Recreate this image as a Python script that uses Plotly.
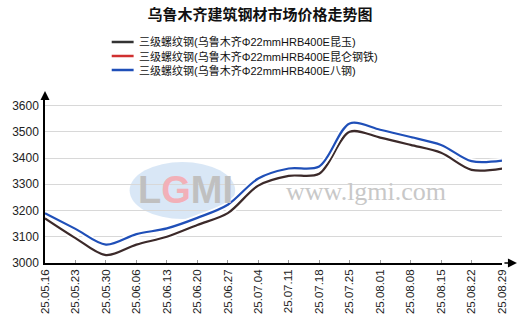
import plotly.graph_objects as go

dates = ["25.05.16", "25.05.23", "25.05.30", "25.06.06", "25.06.13", "25.06.20",
         "25.06.27", "25.07.04", "25.07.11", "25.07.18", "25.07.25", "25.08.01",
         "25.08.08", "25.08.15", "25.08.22", "25.08.29"]
kunyu = [3170, 3095, 3030, 3070, 3100, 3145, 3190, 3295, 3332, 3340, 3500, 3478,
         3450, 3420, 3355, 3360]
kunlun = [3170, 3095, 3030, 3070, 3100, 3145, 3190, 3295, 3332, 3340, 3500, 3478,
          3450, 3420, 3355, 3360]
bagang = [3190, 3130, 3070, 3110, 3132, 3172, 3222, 3322, 3360, 3368, 3532, 3508,
          3480, 3450, 3388, 3390]
names = ["三级螺纹钢(乌鲁木齐Φ22mmHRB400E昆玉)",
         "三级螺纹钢(乌鲁木齐Φ22mmHRB400E昆仑钢铁)",
         "三级螺纹钢(乌鲁木齐Φ22mmHRB400E八钢)"]
colors = ["#3c2a2a", "#d03030", "#1f4fb8"]
yticks = [3000, 3100, 3200, 3300, 3400, 3500, 3600]

fig = go.Figure()
xs = list(range(len(dates)))
for vals, col in [(kunlun, colors[1]), (kunyu, colors[0]), (bagang, colors[2])]:
    fig.add_trace(go.Scatter(x=xs, y=vals, mode="lines",
                             line=dict(color="white", width=6, shape="spline", smoothing=0.9),
                             hoverinfo="skip", showlegend=False))
    fig.add_trace(go.Scatter(x=xs, y=vals, mode="lines",
                             line=dict(color=col, width=2.2, shape="spline", smoothing=0.9),
                             showlegend=False))

L, R, T, B = 43, 18, 99, 71
W, H = 520, 334
pw = W - L - R
ph = H - T - B

def px_x(px):
    return (px - L) / pw

def px_y(py):
    return (H - B - py) / ph

shapes = []
annotations = []

shapes.append(dict(type="circle", xref="paper", yref="paper", layer="below",
                   x0=px_x(128), x1=px_x(234), y0=px_y(219), y1=px_y(162),
                   fillcolor="rgba(180,208,238,0.5)", line=dict(color="rgba(255,255,255,0)", width=0)))
annotations.append(dict(xref="paper", yref="paper", x=px_x(184), y=px_y(190),
                        text="<b>L<span style='color:#f2b0b8'>G</span>MI</b>",
                        showarrow=False, font=dict(family="Liberation Sans", size=38, color="#c0c0c0"),
                        xanchor="center", yanchor="middle"))
annotations.append(dict(xref="paper", yref="paper", x=px_x(365), y=px_y(191),
                        text="www.lgmi.com", showarrow=False,
                        font=dict(family="Liberation Serif", size=26, color="#c8c8c8"),
                        xanchor="center", yanchor="middle"))

annotations.append(dict(xref="paper", yref="paper", x=px_x(517), y=0, ax=-14, ay=0,
                        showarrow=True, arrowhead=2, arrowsize=1.2, arrowwidth=1.5,
                        arrowcolor="black", text=""))
annotations.append(dict(xref="paper", yref="paper", x=0, y=px_y(91), ax=0, ay=10,
                        showarrow=True, arrowhead=2, arrowsize=1.2, arrowwidth=1.5,
                        arrowcolor="black", text=""))

leg_y = [42, 56, 70]
for i in range(3):
    shapes.append(dict(type="line", xref="paper", yref="paper",
                       x0=px_x(110), x1=px_x(132), y0=px_y(leg_y[i]), y1=px_y(leg_y[i]),
                       line=dict(color=colors[i] if i != 0 else "#333333", width=2.5)))
    annotations.append(dict(xref="paper", yref="paper", x=px_x(135), y=px_y(leg_y[i]),
                            text=names[i], showarrow=False, xanchor="left", yanchor="middle",
                            font=dict(family="Liberation Sans, Noto Sans CJK SC", size=11,
                                      color="#111111")))

fig.update_layout(
    width=W, height=H,
    margin=dict(l=L, r=R, t=T, b=B),
    paper_bgcolor="white", plot_bgcolor="white",
    title=dict(text="<b>乌鲁木齐建筑钢材市场价格走势图</b>", x=0.5, xanchor="center",
               y=1 - 15 / H, yanchor="middle",
               font=dict(family="Noto Sans CJK SC", size=15, color="#111111")),
    xaxis=dict(range=[0, len(dates) - 1], tickmode="array", tickvals=xs, ticktext=dates,
               tickangle=-90, showgrid=False, showline=True, linecolor="black", linewidth=1.5,
               ticks="inside", ticklen=3, tickcolor="#999999",
               tickfont=dict(family="Liberation Sans", size=11.5, color="#222222"),
               zeroline=False),
    yaxis=dict(range=[3000, 3625], tickmode="array", tickvals=yticks,
               showgrid=True, gridcolor="#d8d8d8", gridwidth=1,
               showline=True, linecolor="black", linewidth=1.5, ticks="",
               tickfont=dict(family="Liberation Sans", size=12, color="#222222"),
               zeroline=False, ticklabelstandoff=2),
    shapes=shapes, annotations=annotations,
    showlegend=False,
)

fig.write_html("out.html")
